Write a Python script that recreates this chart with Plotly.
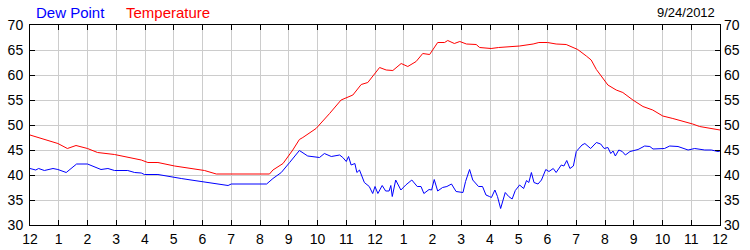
import plotly.graph_objects as go

# ---- data (hours since midnight, °F) ----
temp_hours = [0, 0.5, 0.97, 1.3, 1.6, 2.0, 2.35, 2.94, 3.29, 3.87, 4.1, 4.45, 5.03, 5.6, 6.07,
              6.48, 7.0, 7.5, 8.0, 8.33, 8.45, 8.8, 9.14, 9.37, 9.49, 9.95, 10.42, 10.82, 11.23,
              11.52, 11.75, 12.16, 12.39, 12.62, 12.91, 13.14, 13.43, 13.66, 13.9, 14.18, 14.42,
              14.53, 14.76, 14.95, 15.18, 15.52, 15.64, 16.04, 16.3, 17.03, 17.5, 17.7, 18.0,
              18.3, 18.65, 19.05, 19.35, 19.52, 19.7, 19.98, 20.1, 20.39, 20.62, 20.97, 21.32,
              21.66, 22.01, 22.36, 22.71, 23.05, 23.29, 23.67, 24.0]
temperature = [48, 47.2, 46.3, 45.3, 45.9, 45.3, 44.5, 44.1, 43.7, 43.0, 42.5, 42.5, 41.8, 41.3,
               40.9, 40.2, 40.2, 40.2, 40.2, 40.2, 41.0, 42.3, 45.0, 47.1, 47.5, 49.3, 52.3, 55.0,
               56.0, 58.1, 58.5, 61.5, 61.0, 60.9, 62.3, 61.7, 62.7, 64.3, 64.1, 66.5, 66.5, 66.9,
               66.3, 66.7, 66.2, 66.1, 65.5, 65.3, 65.5, 65.8, 66.2, 66.5, 66.5, 66.2, 66.1, 65.1,
               63.8, 63.0, 61.1, 59.0, 58.0, 57.0, 56.5, 55.0, 53.7, 53.0, 51.8, 51.3, 50.8, 50.2,
               49.7, 49.3, 49.0]

dew_hours = [0, 0.2, 0.3, 0.5, 0.8, 0.97, 1.26, 1.62, 2.0, 2.24, 2.47, 2.71, 2.94, 3.4, 3.64,
             3.87, 3.98, 4.45, 4.8, 5.26, 5.6, 6.07, 6.48, 6.89, 7.0, 8.23, 8.45, 8.74, 9.03,
             9.37, 9.66, 10.07, 10.24, 10.48, 10.77, 10.88, 11.0, 11.08, 11.17, 11.3, 11.37,
             11.46, 11.63, 11.8, 11.92, 12.0, 12.1, 12.25, 12.37, 12.49, 12.55, 12.6, 12.72,
             12.9, 13.07, 13.28, 13.47, 13.6, 13.7, 13.88, 13.97, 14.06, 14.18, 14.35, 14.5,
             14.66, 14.82, 15.06, 15.15, 15.29, 15.4, 15.6, 15.74, 15.86, 15.98, 16.05, 16.17,
             16.26, 16.37, 16.53, 16.65, 16.77, 16.88, 17.03, 17.17, 17.27, 17.35, 17.44, 17.53,
             17.67, 17.79, 17.94, 18.05, 18.2, 18.3, 18.48, 18.57, 18.67, 18.78, 18.9, 19.0,
             19.2, 19.3, 19.5, 19.7, 19.85, 19.97, 20.1, 20.2, 20.28, 20.36, 20.48, 20.6, 20.71,
             20.87, 20.98, 21.15, 21.38, 21.56, 21.67, 22.07, 22.25, 22.54, 22.89, 23.12, 23.47,
             23.7, 23.93, 24.0]
dew_point = [41.3, 41.0, 41.3, 40.9, 41.3, 41.1, 40.5, 42.2, 42.2, 41.7, 41.1, 41.3, 40.9, 40.9,
             40.5, 40.4, 40.1, 40.1, 39.7, 39.3, 39.0, 38.6, 38.2, 37.9, 38.2, 38.2, 39.3, 40.5,
             42.5, 44.9, 43.8, 43.5, 44.3, 43.7, 44.0, 43.5, 42.7, 43.7, 42.0, 42.3, 40.5, 41.0,
             38.5, 37.7, 36.3, 37.7, 36.3, 37.9, 36.8, 36.8, 37.9, 35.7, 39.0, 37.0, 38.0, 39.0,
             37.7, 37.7, 36.3, 37.1, 37.0, 39.1, 36.8, 37.5, 37.7, 38.2, 36.7, 36.5, 38.7, 41.1,
             39.0, 37.7, 37.7, 36.0, 35.7, 35.5, 37.0, 35.7, 33.3, 36.5, 35.7, 35.2, 36.9, 38.0,
             37.3, 38.9, 38.5, 40.5, 38.5, 38.2, 39.0, 41.1, 40.7, 41.3, 40.5, 42.0, 41.8, 42.9,
             41.3, 41.8, 44.7, 46.0, 46.3, 45.3, 46.5, 46.2, 45.3, 45.5, 44.3, 44.8, 43.8, 45.0,
             44.7, 44.0, 44.7, 44.9, 45.1, 45.8, 45.7, 45.2, 45.3, 45.8, 45.7, 45.0, 45.3, 45.0,
             45.0, 44.7, 44.8]

x_tick_vals = list(range(0, 25))
x_tick_text = ["12", "1", "2", "3", "4", "5", "6", "7", "8", "9", "10", "11",
               "12", "1", "2", "3", "4", "5", "6", "7", "8", "9", "10", "11", "12"]
y_tick_vals = [30, 35, 40, 45, 50, 55, 60, 65, 70]
date_label = "9/24/2012"

FONT = "Arial, 'Liberation Sans', sans-serif"

fig = go.Figure()
fig.add_trace(go.Scatter(x=temp_hours, y=temperature, mode="lines",
                         line=dict(color="#ff0000", width=1), name="Temperature"))
fig.add_trace(go.Scatter(x=dew_hours, y=dew_point, mode="lines",
                         line=dict(color="#0000ff", width=1), name="Dew Point"))
# invisible trace on right axis so the right labels show
fig.add_trace(go.Scatter(x=[0], y=[30], yaxis="y2", mode="markers",
                         marker=dict(opacity=0), showlegend=False, hoverinfo="skip"))

fig.update_layout(
    width=750, height=250,
    margin=dict(l=30, r=30, t=25, b=25, autoexpand=False),
    paper_bgcolor="white", plot_bgcolor="white",
    showlegend=False,
    font=dict(family=FONT, size=13, color="#000000"),
    xaxis=dict(range=[0, 24], tickmode="array", tickvals=x_tick_vals, ticktext=x_tick_text,
               showgrid=True, gridcolor="#cccccc", gridwidth=1,
               showline=True, linecolor="#000000", linewidth=1, mirror="ticks",
               ticks="inside", ticklen=5, tickcolor="#000000", zeroline=False,
               ticklabelstandoff=1, automargin=False,
               tickfont=dict(size=14, family=FONT)),
    yaxis=dict(range=[30, 70], tickmode="array", tickvals=y_tick_vals,
               showgrid=True, gridcolor="#cccccc", gridwidth=1,
               showline=True, linecolor="#000000", linewidth=1, mirror="ticks",
               ticks="inside", ticklen=5, tickcolor="#000000", zeroline=False,
               ticklabelstandoff=3, automargin=False,
               tickfont=dict(size=14, family=FONT)),
    yaxis2=dict(range=[30, 70], tickmode="array", tickvals=y_tick_vals, overlaying="y",
                side="right", showgrid=False, zeroline=False, ticks="",
                ticklabelstandoff=3, automargin=False,
                tickfont=dict(size=14, family=FONT)),
    annotations=[
        dict(text="Dew Point", x=34, y=12, showarrow=False,
             font=dict(color="#0000ff", size=15, family=FONT), xanchor="left", yanchor="middle"),
        dict(text="Temperature", x=124, y=12, showarrow=False,
             font=dict(color="#ff0000", size=15, family=FONT), xanchor="left", yanchor="middle"),
        dict(text=date_label, x=717, y=12, showarrow=False,
             font=dict(color="#000000", size=13, family=FONT), xanchor="right", yanchor="middle"),
    ],
)

# annotations positioned in pixel space -> convert to paper coordinates
pw, ph = 750 - 60, 250 - 50
for a in fig.layout.annotations:
    px, py = a.x, a.y
    a.xref = "paper"
    a.yref = "paper"
    a.x = (px - 30) / pw
    a.y = 1 + (25 - py) / ph

fig.write_html("out.html")
